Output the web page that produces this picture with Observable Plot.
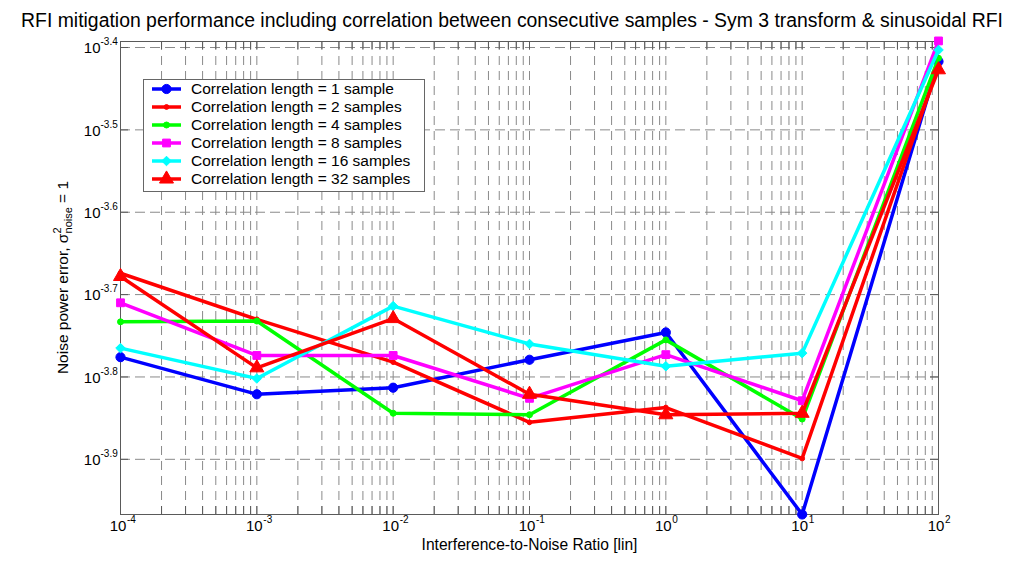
<!DOCTYPE html>
<html>
<head>
<meta charset="utf-8">
<script src="https://cdn.jsdelivr.net/npm/d3@7"></script>
<script src="https://cdn.jsdelivr.net/npm/@observablehq/plot@0.6"></script>
<style>
  html, body { margin: 0; padding: 0; background: #fff; }
  body { width: 1024px; height: 567px; overflow: hidden; font-family: "Liberation Sans", Arial, sans-serif; }
  #title { height: 30px; box-sizing: border-box; padding-top: 10px; line-height: 20px; font-size: 19.4px; text-align: center; color: #000; white-space: nowrap; overflow: visible; }
  #chart svg { display: block; }
</style>
</head>
<body>
<div id="title">RFI mitigation performance including correlation between consecutive samples - Sym 3 transform &amp; sinusoidal RFI</div>
<div id="chart"></div>
<script>
// ---- data ----
const inr = [1e-4, 1e-3, 1e-2, 1e-1, 1, 10, 100];
const seriesNames = [
  "Correlation length = 1 sample",
  "Correlation length = 2 samples",
  "Correlation length = 4 samples",
  "Correlation length = 8 samples",
  "Correlation length = 16 samples",
  "Correlation length = 32 samples"
];
const corr1  = [1.675e-4, 1.510e-4, 1.538e-4, 1.663e-4, 1.795e-4, 1.079e-4, 3.828e-4];
const corr2  = [2.118e-4, 1.862e-4, 1.652e-4, 1.396e-4, 1.455e-4, 1.262e-4, 3.784e-4];
const corr4  = [1.849e-4, 1.853e-4, 1.432e-4, 1.426e-4, 1.758e-4, 1.409e-4, 3.864e-4];
const corr8  = [1.950e-4, 1.683e-4, 1.683e-4, 1.493e-4, 1.687e-4, 1.483e-4, 4.055e-4];
const corr16 = [1.718e-4, 1.578e-4, 1.932e-4, 1.738e-4, 1.633e-4, 1.694e-4, 3.954e-4];
const corr32 = [2.099e-4, 1.626e-4, 1.866e-4, 1.510e-4, 1.426e-4, 1.432e-4, 3.741e-4];
const xTickExps = ["-4", "-3", "-2", "-1", "0", "1", "2"];
const yTickExps = ["-3.4", "-3.5", "-3.6", "-3.7", "-3.8", "-3.9"];
const yDomainExps = [-3.967, -3.3927];

// ---- styling ----
const seriesValues = [corr1, corr2, corr4, corr8, corr16, corr32];
const colors  = ["#0000ff", "#ff0000", "#00ff00", "#ff00ff", "#00ffff", "#ff0000"];
const symbols = ["circle", "circle", "circle", "square", "diamond2", "triangle"];
const radii   = [4.6, 2.4, 3.0, 4.4, 4.3, 5.2];

const W = 1024, H = 537;
const mL = 120, mR = 86, mT = 11, mB = 53;
const innerH = H - mT - mB;

const xGrid = [];
for (let e = -4; e < 2; e++) for (let m = 1; m <= 9; m++) xGrid.push(m * 10 ** e);
xGrid.push(100);
const yTicks = yTickExps.map(e => 10 ** +e);

const gridColor = "#8a8a8a";
const axisColor = "#5a5a5a";
const font = "'Liberation Sans', Arial, sans-serif";

const marks = [
  Plot.ruleX(xGrid.slice(1, -1), {stroke: gridColor, strokeWidth: 1, strokeDasharray: "9,6"}),
  Plot.ruleY(yTicks, {stroke: gridColor, strokeWidth: 1, strokeDasharray: "10,5"}),
  // inward tick marks (bottom / top / left / right)
  Plot.ruleX(xGrid, {stroke: axisColor, insetTop: innerH - 8}),
  Plot.ruleX(xGrid, {stroke: axisColor, insetBottom: innerH - 8}),
  Plot.ruleY(yTicks, {stroke: axisColor, insetRight: (W - mL - mR) - 8}),
  Plot.ruleY(yTicks, {stroke: axisColor, insetLeft: (W - mL - mR) - 8}),
  Plot.frame({stroke: axisColor, strokeWidth: 1}),
  // tick labels
  Plot.text(xTickExps, {x: d => 10 ** +d, text: () => "10", frameAnchor: "bottom", dy: 16, dx: -2.5, fontSize: 15, fill: "#000"}),
  Plot.text(xTickExps, {x: d => 10 ** +d, text: d => d, frameAnchor: "bottom", textAnchor: "start", dy: 8, dx: 6.5, fontSize: 10, fill: "#000"}),
  Plot.text(yTickExps, {y: d => 10 ** +d, text: () => "10", frameAnchor: "left", textAnchor: "end", dx: -20, dy: 1, fontSize: 15, fill: "#000"}),
  Plot.text(yTickExps, {y: d => 10 ** +d, text: d => d, frameAnchor: "left", textAnchor: "start", dx: -20, dy: -5.5, fontSize: 10, fill: "#000"}),
  Plot.text(["Interference-to-Noise Ratio [lin]"], {text: d => d, frameAnchor: "bottom", dy: 35, fontSize: 15.6, fill: "#000"})
];

seriesValues.forEach((vals, i) => {
  const rows = inr.map((x, j) => ({x, y: vals[j]}));
  marks.push(Plot.line(rows, {x: "x", y: "y", stroke: colors[i], strokeWidth: 3.5, strokeLinejoin: "miter"}));
  marks.push(Plot.dot(rows, {x: "x", y: "y", fill: colors[i], stroke: colors[i], strokeWidth: 1, symbol: symbols[i], r: radii[i]}));
});

const plot = Plot.plot({
  width: W, height: H,
  marginLeft: mL, marginRight: mR, marginTop: mT, marginBottom: mB,
  style: {fontFamily: font, background: "#fff", overflow: "visible"},
  x: {type: "log", domain: [1e-4, 100], axis: null},
  y: {type: "log", domain: yDomainExps.map(e => 10 ** e), axis: null},
  marks
});
document.getElementById("chart").appendChild(plot);

// ---- y-axis label with super/subscript ----
const svg = d3.select(plot);
const yl = svg.append("text")
  .attr("transform", `translate(68,${mT + innerH / 2}) rotate(-90)`)
  .attr("text-anchor", "middle")
  .attr("font-family", font)
  .attr("font-size", 15.5)
  .attr("fill", "#000");
yl.append("tspan").text("Noise power error, σ");
yl.append("tspan").attr("font-size", 11).attr("dy", -7).text("2");
yl.append("tspan").attr("font-size", 11).attr("dx", -6).attr("dy", 11).text("noise");
yl.append("tspan").attr("dy", -4).text(" = 1");

// ---- legend ----
const symMap = {circle: d3.symbolCircle, square: d3.symbolSquare, diamond2: d3.symbolDiamond2, triangle: d3.symbolTriangle};
const lg = svg.append("g");
lg.append("rect").attr("x", 143.5).attr("y", 49.5).attr("width", 281).attr("height", 112)
  .attr("fill", "#fff").attr("stroke", "#666").attr("stroke-width", 1);
seriesNames.forEach((name, i) => {
  const cy = 59 + i * 18;
  lg.append("line").attr("x1", 152).attr("x2", 181).attr("y1", cy).attr("y2", cy)
    .attr("stroke", colors[i]).attr("stroke-width", 3.5);
  lg.append("path").attr("d", d3.symbol(symMap[symbols[i]], Math.PI * radii[i] * radii[i])())
    .attr("transform", `translate(166.5,${cy})`).attr("fill", colors[i]).attr("stroke", colors[i]);
  lg.append("text").attr("x", 191).attr("y", cy).attr("dy", "0.35em")
    .attr("text-anchor", "start")
    .attr("font-family", font).attr("font-size", 15.5).attr("fill", "#000")
    .text(name);
});
</script>
</body>
</html>
